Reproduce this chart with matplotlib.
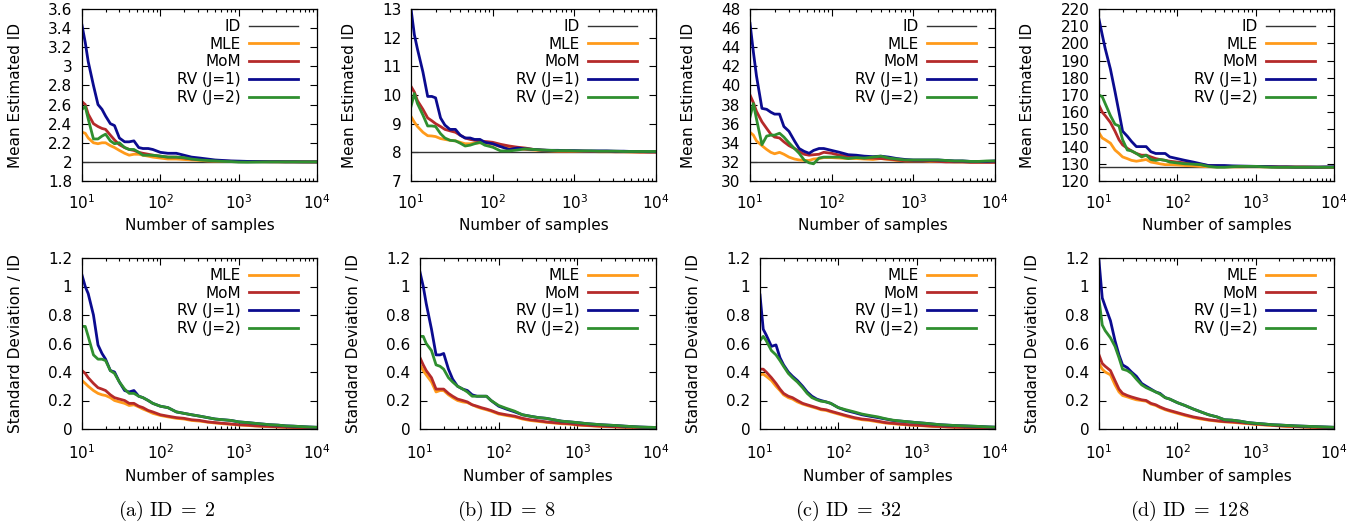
import matplotlib
matplotlib.use("Agg")
import matplotlib.pyplot as plt
from matplotlib.ticker import LogLocator, NullFormatter, MultipleLocator, FormatStrFormatter

plt.rcParams['font.family'] = ['DejaVu Sans']
plt.rcParams['mathtext.fontset'] = 'dejavusans'

# ---------------- data ----------------
n_samples = [10, 11, 12, 14, 16, 18, 20, 23, 26, 30, 35, 40, 46, 53, 60, 70, 80,
             100, 125, 160, 200, 250, 320, 400, 500, 630, 800,
             1000, 1300, 1600, 2000, 2500, 3200, 4000, 5000, 6300, 8000, 10000]

true_ids = [2, 8, 32, 128]
captions = ["(a)", "(b)", "(c)", "(d)"]
series_names = ["MLE", "MoM", "RV (J=1)", "RV (J=2)"]

# Mean estimated ID
mle_mean_2 = [2.31, 2.30, 2.25, 2.20, 2.19, 2.20, 2.20, 2.17, 2.15, 2.12, 2.09, 2.07, 2.08, 2.08, 2.07, 2.06, 2.05, 2.04, 2.03, 2.03, 2.025, 2.02, 2.015, 2.01, 2.008, 2.006, 2.005, 2.004, 2.003, 2.003, 2.002, 2.002, 2.001, 2.001, 2.001, 2.0, 2.0, 2.0]
mom_mean_2 = [2.63, 2.60, 2.50, 2.40, 2.37, 2.35, 2.34, 2.28, 2.23, 2.18, 2.15, 2.13, 2.12, 2.10, 2.09, 2.08, 2.07, 2.06, 2.05, 2.05, 2.04, 2.03, 2.025, 2.02, 2.012, 2.008, 2.006, 2.005, 2.004, 2.003, 2.003, 2.002, 2.002, 2.001, 2.001, 2.001, 2.0, 2.0]
rv1_mean_2 = [3.43, 3.25, 3.05, 2.80, 2.60, 2.55, 2.48, 2.40, 2.38, 2.25, 2.21, 2.21, 2.22, 2.15, 2.14, 2.14, 2.13, 2.10, 2.09, 2.09, 2.07, 2.05, 2.04, 2.03, 2.02, 2.015, 2.01, 2.008, 2.005, 2.004, 2.003, 2.002, 2.002, 2.001, 2.001, 2.0, 2.0, 2.0]
rv2_mean_2 = [2.55, 2.58, 2.45, 2.24, 2.24, 2.27, 2.29, 2.22, 2.19, 2.20, 2.15, 2.13, 2.13, 2.10, 2.07, 2.07, 2.07, 2.06, 2.05, 2.05, 2.045, 2.03, 2.02, 2.015, 2.01, 2.005, 2.003, 1.998, 1.997, 1.998, 1.999, 2.0, 2.0, 2.0, 2.0, 2.0, 2.0, 2.0]

mle_mean_8 = [9.25, 9.05, 8.90, 8.70, 8.58, 8.57, 8.55, 8.48, 8.45, 8.42, 8.40, 8.35, 8.30, 8.30, 8.32, 8.33, 8.32, 8.28, 8.20, 8.15, 8.12, 8.10, 8.08, 8.06, 8.05, 8.04, 8.04, 8.03, 8.03, 8.03, 8.02, 8.02, 8.02, 8.02, 8.01, 8.01, 8.01, 8.01]
mom_mean_8 = [10.3, 10.1, 9.80, 9.50, 9.20, 9.10, 9.00, 8.90, 8.80, 8.75, 8.70, 8.60, 8.50, 8.45, 8.42, 8.40, 8.38, 8.35, 8.28, 8.22, 8.18, 8.15, 8.10, 8.08, 8.06, 8.05, 8.05, 8.04, 8.04, 8.03, 8.03, 8.03, 8.02, 8.02, 8.02, 8.01, 8.01, 8.01]
rv1_mean_8 = [13.0, 12.1, 11.6, 10.8, 9.95, 9.95, 9.90, 9.20, 8.95, 8.80, 8.80, 8.60, 8.50, 8.50, 8.45, 8.45, 8.35, 8.30, 8.20, 8.10, 8.15, 8.12, 8.10, 8.08, 8.07, 8.07, 8.06, 8.06, 8.05, 8.05, 8.05, 8.05, 8.04, 8.04, 8.03, 8.03, 8.02, 8.02]
rv2_mean_8 = [9.60, 10.05, 9.70, 9.30, 8.92, 8.92, 8.90, 8.65, 8.50, 8.42, 8.40, 8.32, 8.22, 8.25, 8.30, 8.35, 8.25, 8.18, 8.05, 8.05, 8.08, 8.12, 8.10, 8.08, 8.07, 8.06, 8.06, 8.05, 8.05, 8.05, 8.04, 8.04, 8.04, 8.03, 8.03, 8.03, 8.03, 8.03]

mle_mean_32 = [35.1, 34.8, 34.2, 33.7, 33.3, 33.0, 32.85, 33.0, 32.8, 32.5, 32.3, 32.2, 32.15, 32.15, 32.3, 32.35, 32.45, 32.45, 32.4, 32.35, 32.35, 32.3, 32.25, 32.35, 32.25, 32.15, 32.1, 32.1, 32.1, 32.05, 32.05, 32.05, 32.0, 32.0, 32.0, 32.0, 32.0, 32.0]
mom_mean_32 = [39.0, 38.2, 37.3, 36.2, 35.5, 34.9, 34.6, 34.5, 34.1, 33.7, 33.4, 33.1, 32.8, 32.7, 32.75, 32.8, 33.0, 32.9, 32.7, 32.6, 32.5, 32.4, 32.4, 32.35, 32.3, 32.2, 32.1, 32.1, 32.1, 32.1, 32.05, 32.0, 32.0, 32.0, 31.95, 31.95, 31.95, 31.95]
rv1_mean_32 = [46.5, 43.5, 41.0, 37.6, 37.5, 37.2, 37.0, 37.0, 35.7, 35.2, 34.2, 33.4, 33.1, 32.9, 33.2, 33.4, 33.4, 33.2, 33.0, 32.75, 32.7, 32.6, 32.55, 32.6, 32.5, 32.35, 32.25, 32.2, 32.2, 32.2, 32.2, 32.15, 32.1, 32.1, 32.05, 32.05, 32.05, 32.1]
rv2_mean_32 = [36.7, 38.1, 36.5, 33.8, 34.7, 34.8, 34.8, 35.0, 34.6, 34.0, 33.4, 32.9, 32.2, 31.9, 31.8, 32.4, 32.5, 32.5, 32.5, 32.35, 32.45, 32.4, 32.5, 32.6, 32.4, 32.3, 32.2, 32.2, 32.2, 32.2, 32.2, 32.15, 32.1, 32.1, 32.05, 32.05, 32.1, 32.1]

mle_mean_128 = [148, 145, 144, 142, 138, 136, 134, 133, 132, 131.5, 132, 132.5, 131, 130.5, 130, 129.5, 129.5, 129.3, 129, 128.8, 128.5, 128.3, 128.2, 128.2, 128.2, 128.2, 128.3, 128.3, 128.2, 128.2, 128.1, 128.1, 128.1, 128.1, 128.0, 128.0, 128.0, 128.0]
mom_mean_128 = [164, 160, 158, 154, 149, 144, 141, 139, 137.5, 136, 135, 135, 134, 133, 132.5, 132, 131.5, 131, 130.5, 130, 129.5, 129, 128.8, 128.6, 128.5, 128.5, 128.5, 128.5, 128.4, 128.3, 128.2, 128.2, 128.1, 128.1, 128.1, 128.0, 128.0, 128.0]
rv1_mean_128 = [214, 205, 197, 185, 172, 160, 149, 146, 143, 140, 140, 140, 137, 136, 136, 136, 134, 133, 132, 131, 130, 129, 129, 129, 128.8, 128.7, 128.6, 128.5, 128.4, 128.3, 128.2, 128.2, 128.1, 128.1, 128.1, 128.1, 128.2, 128.3]
rv2_mean_128 = [170, 169, 165, 158, 153, 152, 144, 138, 137.5, 136, 134, 135, 132.5, 132, 132.5, 132, 131, 130.5, 130, 129.8, 129.5, 128.5, 128, 128, 128.3, 128.5, 128.5, 128.5, 128.2, 128, 128, 128, 128, 128, 128, 128, 128, 128]

# Standard deviation / ID
mle_std_2 = [0.34, 0.32, 0.30, 0.27, 0.25, 0.24, 0.235, 0.22, 0.20, 0.19, 0.18, 0.165, 0.17, 0.155, 0.14, 0.125, 0.11, 0.095, 0.085, 0.075, 0.07, 0.06, 0.055, 0.048, 0.042, 0.037, 0.033, 0.028, 0.025, 0.021, 0.019, 0.016, 0.014, 0.012, 0.01, 0.009, 0.008, 0.007]
mom_std_2 = [0.41, 0.39, 0.36, 0.32, 0.29, 0.28, 0.27, 0.24, 0.22, 0.21, 0.20, 0.18, 0.18, 0.16, 0.15, 0.13, 0.12, 0.10, 0.09, 0.08, 0.075, 0.065, 0.06, 0.05, 0.045, 0.04, 0.035, 0.03, 0.027, 0.023, 0.02, 0.018, 0.015, 0.013, 0.011, 0.01, 0.009, 0.008]
rv1_std_2 = [1.08, 1.00, 0.95, 0.80, 0.59, 0.53, 0.49, 0.41, 0.40, 0.33, 0.27, 0.26, 0.27, 0.23, 0.22, 0.20, 0.18, 0.16, 0.15, 0.12, 0.11, 0.10, 0.09, 0.08, 0.07, 0.065, 0.06, 0.05, 0.045, 0.04, 0.035, 0.03, 0.027, 0.022, 0.02, 0.017, 0.014, 0.012]
rv2_std_2 = [0.72, 0.72, 0.65, 0.52, 0.49, 0.49, 0.48, 0.41, 0.39, 0.33, 0.28, 0.25, 0.25, 0.23, 0.22, 0.20, 0.18, 0.16, 0.15, 0.12, 0.11, 0.10, 0.09, 0.08, 0.07, 0.065, 0.06, 0.05, 0.045, 0.04, 0.035, 0.03, 0.027, 0.022, 0.02, 0.017, 0.014, 0.012]

mle_std_8 = [0.45, 0.41, 0.38, 0.33, 0.26, 0.27, 0.27, 0.24, 0.22, 0.20, 0.19, 0.185, 0.17, 0.155, 0.145, 0.135, 0.125, 0.105, 0.095, 0.085, 0.07, 0.06, 0.053, 0.047, 0.042, 0.037, 0.034, 0.028, 0.024, 0.021, 0.018, 0.016, 0.014, 0.012, 0.011, 0.01, 0.009, 0.008]
mom_std_8 = [0.50, 0.45, 0.41, 0.36, 0.28, 0.28, 0.28, 0.25, 0.23, 0.21, 0.20, 0.19, 0.17, 0.16, 0.15, 0.14, 0.13, 0.11, 0.10, 0.09, 0.075, 0.065, 0.058, 0.05, 0.045, 0.04, 0.037, 0.03, 0.026, 0.023, 0.02, 0.018, 0.015, 0.013, 0.012, 0.011, 0.01, 0.009]
rv1_std_8 = [1.10, 1.00, 0.88, 0.70, 0.52, 0.52, 0.53, 0.42, 0.35, 0.30, 0.28, 0.27, 0.24, 0.23, 0.23, 0.23, 0.20, 0.16, 0.14, 0.12, 0.10, 0.09, 0.08, 0.075, 0.065, 0.055, 0.05, 0.045, 0.038, 0.034, 0.03, 0.027, 0.024, 0.02, 0.017, 0.014, 0.012, 0.011]
rv2_std_8 = [0.65, 0.65, 0.60, 0.55, 0.45, 0.44, 0.42, 0.36, 0.33, 0.30, 0.28, 0.26, 0.23, 0.23, 0.23, 0.23, 0.20, 0.165, 0.145, 0.125, 0.10, 0.09, 0.08, 0.075, 0.065, 0.055, 0.05, 0.045, 0.038, 0.034, 0.03, 0.027, 0.024, 0.02, 0.017, 0.014, 0.012, 0.011]

mle_std_32 = [0.38, 0.385, 0.37, 0.34, 0.30, 0.27, 0.24, 0.22, 0.21, 0.19, 0.175, 0.165, 0.155, 0.145, 0.135, 0.13, 0.12, 0.105, 0.09, 0.075, 0.065, 0.06, 0.05, 0.042, 0.037, 0.032, 0.028, 0.025, 0.021, 0.018, 0.016, 0.014, 0.012, 0.011, 0.01, 0.009, 0.008, 0.007]
mom_std_32 = [0.42, 0.42, 0.40, 0.36, 0.32, 0.28, 0.25, 0.23, 0.22, 0.20, 0.18, 0.17, 0.16, 0.15, 0.14, 0.135, 0.125, 0.11, 0.095, 0.08, 0.07, 0.065, 0.055, 0.045, 0.04, 0.035, 0.03, 0.027, 0.023, 0.02, 0.018, 0.015, 0.013, 0.012, 0.011, 0.01, 0.009, 0.008]
rv1_std_32 = [0.94, 0.70, 0.66, 0.58, 0.59, 0.50, 0.45, 0.40, 0.37, 0.34, 0.30, 0.26, 0.23, 0.21, 0.20, 0.19, 0.18, 0.15, 0.13, 0.115, 0.10, 0.09, 0.08, 0.07, 0.06, 0.055, 0.05, 0.045, 0.04, 0.035, 0.03, 0.027, 0.024, 0.022, 0.02, 0.018, 0.015, 0.013]
rv2_std_32 = [0.62, 0.65, 0.62, 0.55, 0.52, 0.48, 0.44, 0.39, 0.36, 0.33, 0.29, 0.25, 0.22, 0.205, 0.195, 0.19, 0.18, 0.15, 0.135, 0.12, 0.105, 0.095, 0.085, 0.072, 0.062, 0.056, 0.05, 0.045, 0.04, 0.035, 0.03, 0.027, 0.024, 0.022, 0.02, 0.018, 0.015, 0.013]

mle_std_128 = [0.46, 0.42, 0.40, 0.38, 0.31, 0.26, 0.235, 0.225, 0.215, 0.205, 0.20, 0.195, 0.175, 0.165, 0.15, 0.135, 0.125, 0.11, 0.095, 0.08, 0.07, 0.062, 0.055, 0.05, 0.047, 0.042, 0.037, 0.032, 0.028, 0.025, 0.021, 0.018, 0.016, 0.014, 0.012, 0.01, 0.009, 0.007]
mom_std_128 = [0.52, 0.46, 0.44, 0.41, 0.34, 0.28, 0.25, 0.235, 0.225, 0.215, 0.205, 0.20, 0.18, 0.17, 0.155, 0.14, 0.13, 0.115, 0.10, 0.085, 0.075, 0.065, 0.058, 0.052, 0.05, 0.045, 0.04, 0.035, 0.03, 0.027, 0.023, 0.02, 0.018, 0.015, 0.013, 0.011, 0.01, 0.008]
rv1_std_128 = [1.18, 0.92, 0.86, 0.76, 0.62, 0.52, 0.45, 0.43, 0.40, 0.37, 0.32, 0.30, 0.28, 0.26, 0.25, 0.22, 0.21, 0.185, 0.165, 0.14, 0.12, 0.10, 0.085, 0.065, 0.062, 0.055, 0.045, 0.04, 0.035, 0.03, 0.028, 0.025, 0.022, 0.02, 0.018, 0.016, 0.014, 0.012]
rv2_std_128 = [0.91, 0.73, 0.69, 0.64, 0.58, 0.50, 0.42, 0.41, 0.39, 0.35, 0.31, 0.29, 0.275, 0.26, 0.245, 0.22, 0.21, 0.185, 0.165, 0.14, 0.12, 0.10, 0.085, 0.065, 0.062, 0.055, 0.045, 0.04, 0.035, 0.03, 0.028, 0.025, 0.022, 0.02, 0.018, 0.016, 0.014, 0.012]

mean_ylims = [(1.8, 3.6, 0.2), (7, 13, 1), (30, 48, 2), (120, 220, 10)]

# ---------------- style ----------------
colors = ['#ff9a1a', '#b52a2a', '#0b0b8f', '#2f8f2f']
id_color = '#333333'
LW = 2.0
FS = 11

mean_series = [
    [mle_mean_2, mom_mean_2, rv1_mean_2, rv2_mean_2],
    [mle_mean_8, mom_mean_8, rv1_mean_8, rv2_mean_8],
    [mle_mean_32, mom_mean_32, rv1_mean_32, rv2_mean_32],
    [mle_mean_128, mom_mean_128, rv1_mean_128, rv2_mean_128],
]
std_series = [
    [mle_std_2, mom_std_2, rv1_std_2, rv2_std_2],
    [mle_std_8, mom_std_8, rv1_std_8, rv2_std_8],
    [mle_std_32, mom_std_32, rv1_std_32, rv2_std_32],
    [mle_std_128, mom_std_128, rv1_std_128, rv2_std_128],
]

W, H = 1369, 525
fig = plt.figure(figsize=(W / 100, H / 100), dpi=100)

def px_axes(l, t, r, b):
    return fig.add_axes([l / W, 1 - b / H, (r - l) / W, (b - t) / H])

top_lr = [(82, 317), (411, 656), (750, 995), (1099, 1334)]
bot_lr = [(82, 317), (420, 656), (760, 995), (1099, 1334)]
caption_x = [167, 507, 848, 1190]


def style_axes(ax, xpad):
    ax.set_xscale('log')
    ax.set_xlim(10, 10000)
    ax.xaxis.set_major_locator(LogLocator(base=10, numticks=10))
    ax.xaxis.set_minor_locator(LogLocator(base=10, subs=range(2, 10), numticks=20))
    ax.xaxis.set_minor_formatter(NullFormatter())
    ax.tick_params(which='both', direction='in', top=True, right=True, labelsize=FS,
                   width=0.8)
    ax.tick_params(which='major', length=5)
    ax.tick_params(which='minor', length=2.5)
    ax.tick_params(axis='y', which='major', pad=7)
    ax.tick_params(axis='x', which='major', pad=xpad)
    for s in ax.spines.values():
        s.set_linewidth(0.9)
    ax.set_xlabel("Number of samples", fontsize=FS, labelpad=5)


def add_legend(ax, height_px):
    width_px = ax.get_position().width * W
    ax.legend(loc='upper right',
              bbox_to_anchor=(1 - 19 / width_px, 1 - 10 / height_px),
              frameon=False, markerfirst=False, fontsize=FS,
              handlelength=3.2, handletextpad=0.55, labelspacing=0.18,
              borderaxespad=0, borderpad=0)


for i in range(4):
    # mean panel
    ax = px_axes(top_lr[i][0], 9, top_lr[i][1], 181)
    style_axes(ax, 8.5)
    lo, hi, step = mean_ylims[i]
    ax.set_ylim(lo, hi)
    ax.yaxis.set_major_locator(MultipleLocator(step))
    ax.yaxis.set_major_formatter(FormatStrFormatter('%g'))
    ax.axhline(true_ids[i], color=id_color, lw=1.0, label='ID')
    for vals, name, c in zip(mean_series[i], series_names, colors):
        ax.plot(n_samples, vals, color=c, lw=LW, label=name)
    ax.set_ylabel("Mean Estimated ID", fontsize=FS, labelpad=18)
    add_legend(ax, 172)

    # std panel
    ax2 = px_axes(bot_lr[i][0], 258, bot_lr[i][1], 429)
    style_axes(ax2, 10.5)
    ax2.set_ylim(0, 1.2)
    ax2.yaxis.set_major_locator(MultipleLocator(0.2))
    ax2.yaxis.set_major_formatter(FormatStrFormatter('%g'))
    for vals, name, c in zip(std_series[i], series_names, colors):
        ax2.plot(n_samples, vals, color=c, lw=LW, label=name)
    ax2.set_ylabel("Standard Deviation / ID", fontsize=FS, labelpad=18)
    add_legend(ax2, 171)

    fig.text(caption_x[i] / W, 1 - 511 / H,
             r"$\mathrm{" + captions[i] + r"\ ID}\;=\;" + str(true_ids[i]) + "$",
             ha='center', va='center', fontsize=14.5, math_fontfamily='cm')

fig.savefig("out.png", dpi=100)
